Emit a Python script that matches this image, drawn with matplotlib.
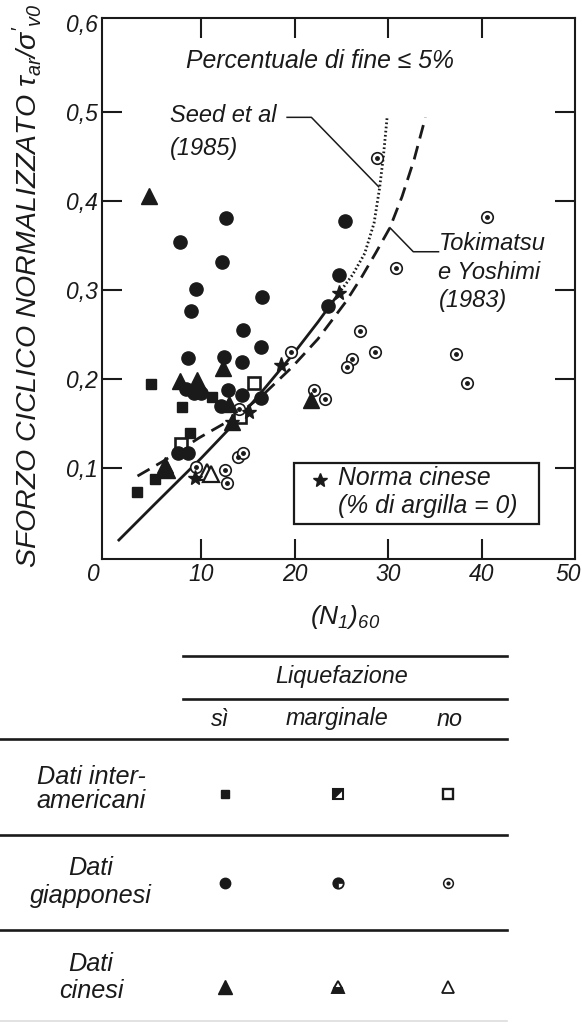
import matplotlib
matplotlib.use("Agg")
import matplotlib.pyplot as plt
from matplotlib.path import Path
from matplotlib.lines import Line2D
from matplotlib.patches import Rectangle
from matplotlib.transforms import ScaledTranslation

plt.rcParams["font.family"] = ["Liberation Sans", "DejaVu Sans"]
plt.rcParams["font.style"] = "italic"
plt.rcParams["mathtext.fontset"] = "custom"
plt.rcParams["mathtext.rm"] = "Liberation Sans:italic"
plt.rcParams["mathtext.it"] = "Liberation Sans:italic"
plt.rcParams["mathtext.sf"] = "Liberation Sans:italic"

INK = "#1a1a1a"

# ---------------- data: (N1)60 and normalised cyclic stress ----------------
# Japanese data, liquefaction = yes
jp_yes_n = [12.7, 7.7, 12.2, 9.5, 16.5, 8.9, 14.5, 16.4, 25.4, 24.8, 23.6,
            8.6, 12.4, 14.4, 8.4, 9.2, 10.0, 12.9, 14.4, 12.1, 16.4, 7.5, 8.6]
jp_yes_t = [0.381, 0.354, 0.331, 0.301, 0.292, 0.276, 0.255, 0.236, 0.378,
            0.317, 0.282, 0.224, 0.225, 0.219, 0.189, 0.184, 0.184, 0.188,
            0.182, 0.170, 0.179, 0.117, 0.117]
# Japanese data, liquefaction = no
jp_no_n = [28.8, 40.6, 30.9, 27.0, 19.6, 28.6, 26.1, 25.6, 37.3, 38.4, 22.1,
           23.3, 14.1, 9.5, 12.6, 12.8, 14.0, 14.5]
jp_no_t = [0.448, 0.382, 0.325, 0.254, 0.230, 0.230, 0.222, 0.213, 0.228,
           0.196, 0.188, 0.178, 0.166, 0.101, 0.098, 0.083, 0.112, 0.117]
# Inter-American data
am_yes_n = [4.6, 11.2, 8.0, 8.8, 5.1, 3.1]
am_yes_t = [0.194, 0.180, 0.169, 0.139, 0.088, 0.073]
am_no_n = [15.7, 14.2, 7.9]
am_no_t = [0.196, 0.157, 0.127]
# Chinese data
cn_yes_n = [4.4, 7.7, 9.6, 12.3, 13.0, 13.3, 6.1, 6.4, 21.8]
cn_yes_t = [0.406, 0.198, 0.199, 0.212, 0.172, 0.152, 0.103, 0.098, 0.176]
cn_no_n = [10.6, 11.1]
cn_no_t = [0.096, 0.093]
# Chinese code (clay content = 0)
code_n = [24.8, 18.5, 15.1, 13.3, 9.4]
code_t = [0.297, 0.216, 0.163, 0.152, 0.089]

# Boundary curves
seed_n = [1.1, 5.0, 10.0, 14.0, 17.0, 20.0, 22.5, 25.0]
seed_t = [0.018, 0.059, 0.111, 0.155, 0.192, 0.230, 0.264, 0.300]
seed_ext_n = [25.0, 26.2, 27.5, 28.5, 29.1, 29.5, 29.9]
seed_ext_t = [0.300, 0.317, 0.341, 0.375, 0.415, 0.450, 0.494]
toki_n = [3.2, 6.0, 9.8, 13.3, 16.5, 19.7, 22.5, 25.5, 27.2, 28.7, 30.2,
          31.5, 32.8, 34.0]
toki_t = [0.091, 0.108, 0.134, 0.155, 0.181, 0.213, 0.245, 0.287, 0.315,
          0.342, 0.370, 0.405, 0.447, 0.494]

x_ticks = [0, 10, 20, 30, 40, 50]
y_ticks = [0.1, 0.2, 0.3, 0.4, 0.5, 0.6]
y_tick_labels = ["0,1", "0,2", "0,3", "0,4", "0,5", "0,6"]

col_headers = ["sì", "marginale", "no"]
row_headers = [("Dati inter-", "americani"), ("Dati", "giapponesi"), ("Dati", "cinesi")]

# ---------------- figure ----------------
W, H = 582, 1023
fig = plt.figure(figsize=(W / 100, H / 100), dpi=100)
fig.patch.set_facecolor("white")


def fx(px):
    return px / W


def fy(py):
    return 1 - py / H


ax = fig.add_axes([fx(102), fy(559), fx(575) - fx(102), fy(18) - fy(559)])
ax.set_xlim(-0.6, 50)
ax.set_ylim(-0.0022, 0.6056)

for s in ax.spines.values():
    s.set_linewidth(1.5)
    s.set_color(INK)

ax.set_xticks(x_ticks)
ax.set_xticklabels([str(v) for v in x_ticks])
ax.set_yticks(y_ticks)
ax.set_yticklabels(y_tick_labels)
ax.tick_params(direction="in", length=14.5, width=1.5, color=INK,
               top=True, right=True, labelsize=16.5, labelcolor=INK)
ax.tick_params(axis="x", pad=3)
ax.tick_params(axis="y", pad=3)
for t in (ax.xaxis.get_major_ticks()[0], ax.xaxis.get_major_ticks()[-1],
          ax.yaxis.get_major_ticks()[-1]):
    t.tick1line.set_visible(False)
    t.tick2line.set_visible(False)
xl = ax.get_xticklabels()
xl[0].set_transform(xl[0].get_transform() + ScaledTranslation(-0.14, 0, fig.dpi_scale_trans))
xl[-1].set_transform(xl[-1].get_transform() + ScaledTranslation(-0.07, 0, fig.dpi_scale_trans))

# curves
ax.plot(seed_n, seed_t, color=INK, lw=2.0, solid_capstyle="butt",
        solid_joinstyle="round", zorder=2)
ax.plot(seed_ext_n, seed_ext_t, color=INK, lw=2.0, linestyle=(0, (0.6, 0.9)), zorder=2)
ax.plot(toki_n, toki_t, color=INK, lw=2.0, linestyle=(0, (5.0, 2.8)), zorder=2)

# points
mk = dict(linestyle="none", zorder=3)
ax.plot(am_yes_n, am_yes_t, marker="s", ms=7.5, mfc=INK, mec=INK, **mk)
ax.plot(am_no_n, am_no_t, marker="s", ms=8, mfc="white", mec=INK, mew=1.9, **mk)
ax.plot(jp_yes_n, jp_yes_t, marker="o", ms=9.5, mfc=INK, mec=INK, **mk)
ax.plot(jp_no_n, jp_no_t, marker="o", ms=8.3, mfc="white", mec=INK, mew=1.2, **mk)
ax.plot(jp_no_n, jp_no_t, marker="o", ms=2.5, mfc=INK, mec=INK, **mk)
ax.plot(cn_yes_n, cn_yes_t, marker="^", ms=11, mfc=INK, mec=INK, **mk)
ax.plot(cn_no_n, cn_no_t, marker="^", ms=11, mfc="white", mec=INK, mew=1.6, **mk)
ax.plot(code_n, code_t, marker="*", ms=11, mfc=INK, mec=INK, **mk)

# annotations
txt = dict(fontsize=17, color=INK, transform=ax.transAxes)
ax.text(0.4607, 0.9205, "Percentuale di fine \u2264 5%", ha="center", va="center",
        fontsize=17.8, color=INK, transform=ax.transAxes)
ax.text(0.1444, 0.8189, "Seed et al", ha="left", va="center", **txt)
ax.text(0.1444, 0.7597, "(1985)", ha="left", va="center", **txt)
ax.plot([19.2, 21.8, 29.0], [0.494, 0.494, 0.416], color=INK, lw=1.1, zorder=2)

ax.text(0.7113, 0.5841, "Tokimatsu", ha="left", va="center", **txt)
ax.text(0.7113, 0.5287, "e Yoshimi", ha="left", va="center", **txt)
ax.text(0.7113, 0.4769, "(1983)", ha="left", va="center", **txt)
ax.plot([30.2, 32.7, 35.4], [0.370, 0.343, 0.343], color=INK, lw=1.1, zorder=2)

# key box
ax.add_patch(Rectangle((0.4055, 0.0647), 0.9236 - 0.4055, 0.1774 - 0.0647,
                       transform=ax.transAxes, fill=True, facecolor="white",
                       edgecolor=INK, lw=1.6, zorder=4))
ax.plot([0.4607], [0.146], marker="*", ms=10, color=INK, linestyle="none",
        transform=ax.transAxes, zorder=5)
ax.text(0.4989, 0.1497, "Norma cinese", ha="left", va="center", fontsize=17.8,
        color=INK, transform=ax.transAxes, zorder=5)
ax.text(0.4989, 0.098, "(% di argilla = 0)", ha="left", va="center", fontsize=17.8,
        color=INK, transform=ax.transAxes, zorder=5)

# axis titles
fig.text(fx(27), fy(286), r"SFORZO CICLICO NORMALIZZATO $\tau_{ar}/\sigma'_{v0}$",
         rotation=90, ha="center", va="center", fontsize=20.5, color=INK)
fig.text(fx(345), fy(617), r"$(N_{1})_{60}$", ha="center", va="center",
         fontsize=19, color=INK)

# ---------------- symbol table ----------------
table_right = 507
head_left = 183
for yy, x0 in [(656, head_left), (699, head_left), (739, 0), (835, 0), (930, 0)]:
    fig.add_artist(Line2D([fx(x0), fx(table_right)], [fy(yy), fy(yy)],
                          transform=fig.transFigure, color=INK, lw=1.9))
fig.add_artist(Line2D([fx(0), fx(table_right)], [fy(1021), fy(1021)],
                      transform=fig.transFigure, color="#dddddd", lw=1.2))

fig.text(fx(342), fy(676), "Liquefazione", ha="center", va="center", fontsize=16.8, color=INK)
for cx, lab in zip([220, 337, 450], col_headers):
    fig.text(fx(cx), fy(719), lab, ha="center", va="center", fontsize=16.8, color=INK)

for (l1, l2), (y1, y2) in zip(row_headers, [(777, 801), (868, 896), (964, 991)]):
    fig.text(fx(91), fy(y1), l1, ha="center", va="center", fontsize=18.2, color=INK)
    fig.text(fx(91), fy(y2), l2, ha="center", va="center", fontsize=18.2, color=INK)

cols = [225, 338, 448]
rows = [794, 883, 987]


def key(px, py, **kw):
    fig.add_artist(Line2D([fx(px)], [fy(py)], transform=fig.transFigure,
                          linestyle="none", **kw))


corner = Path([(-1, -1), (-1, 1), (1, 1), (-1, -1)],
              [Path.MOVETO, Path.LINETO, Path.LINETO, Path.CLOSEPOLY])
wedge = Path.wedge(0, 270)

# inter-American
key(cols[0], rows[0], marker="s", ms=6, mfc=INK, mec=INK)
key(cols[1], rows[0], marker="s", ms=6.5, mfc="white", mec=INK, mew=1.5)
key(cols[1], rows[0], marker=corner, ms=6.5, mfc=INK, mec=INK, mew=0.5)
key(cols[2], rows[0], marker="s", ms=6.5, mfc="white", mec=INK, mew=1.7)
# Japanese
key(cols[0], rows[1], marker="o", ms=7.5, mfc=INK, mec=INK)
key(cols[1], rows[1], marker=wedge, ms=7.5, mfc=INK, mec=INK, mew=0.5)
key(cols[1], rows[1], marker="o", ms=7.5, mfc="none", mec=INK, mew=1.3)
key(cols[2], rows[1], marker="o", ms=7, mfc="white", mec=INK, mew=1.1)
key(cols[2], rows[1], marker="o", ms=2, mfc=INK, mec=INK)
# Chinese
key(cols[0], rows[2], marker="^", ms=9.5, mfc=INK, mec=INK)
key(cols[1], rows[2], marker="^", ms=9, mfc=INK, mfcalt="white", fillstyle="bottom",
    mec=INK, mew=1.4)
key(cols[2], rows[2], marker="^", ms=9, mfc="white", mec=INK, mew=1.3)

fig.savefig("out.png", dpi=100, facecolor="white")
